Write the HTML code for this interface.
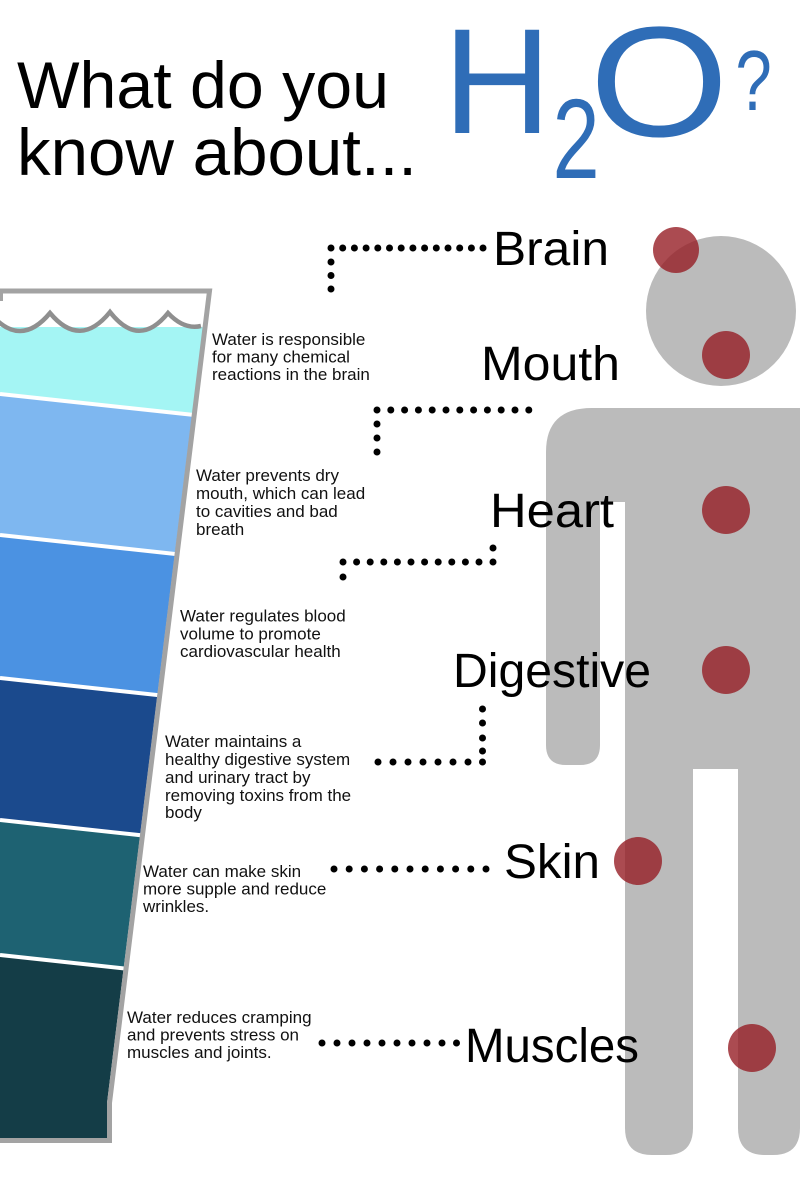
<!DOCTYPE html>
<html>
<head>
<meta charset="utf-8">
<style>
  html,body{margin:0;padding:0;background:#fff;}
  body{width:800px;height:1200px;overflow:hidden;}
  svg{display:block;}
  text{font-family:"Liberation Sans",sans-serif;}
</style>
</head>
<body>
<svg width="800" height="1200" viewBox="0 0 800 1200" xmlns="http://www.w3.org/2000/svg">
  <defs>
    <clipPath id="glass">
      <polygon points="0,294 207,294 107,1103 107,1138 0,1138"/>
    </clipPath>
  </defs>

  <!-- Title -->
  <text x="17" y="108" font-size="66" fill="#000" textLength="372" lengthAdjust="spacingAndGlyphs">What do you</text>
  <text x="17" y="175" font-size="66" fill="#000" textLength="400" lengthAdjust="spacingAndGlyphs">know about...</text>

  <!-- H2O? -->
  <text x="443" y="133" font-size="150" fill="#2f6db7">H</text>
  <text transform="translate(555,178) scale(0.75,1)" x="-3.4" y="0" font-size="113" fill="#2f6db7">2</text>
  <text transform="translate(598,136) scale(1.14,1)" x="-7.5" y="0" font-size="157" fill="#2f6db7">O</text>
  <text transform="translate(740,110) scale(0.77,1)" x="-6" y="0" font-size="85" fill="#2f6db7">?</text>

  <!-- Glass bands -->
  <g clip-path="url(#glass)">
    <polygon fill="#a4f5f4" points="0,327 240,327 240,420 0,394"/>
    <polygon fill="#7eb7f0" points="0,394 240,420 240,561 0,535"/>
    <polygon fill="#4b92e2" points="0,535 240,561 240,704 0,678"/>
    <polygon fill="#1b4a8d" points="0,678 240,704 240,846 0,820"/>
    <polygon fill="#1e6272" points="0,820 240,846 240,981 0,955"/>
    <polygon fill="#143d47" points="0,955 240,981 240,1140 0,1140"/>
    <g stroke="#fff" stroke-width="4">
      <line x1="0" y1="394" x2="240" y2="420"/>
      <line x1="0" y1="535" x2="240" y2="561"/>
      <line x1="0" y1="678" x2="240" y2="704"/>
      <line x1="0" y1="820" x2="240" y2="846"/>
      <line x1="0" y1="955" x2="240" y2="981"/>
    </g>
  </g>
  <!-- wave -->
  <path d="M -10,313 Q 20,349 50,313 Q 80,349 110,312 Q 139,349 168,313 Q 184,330 201,326" fill="none" stroke="#8f8f8f" stroke-width="4.5" stroke-linejoin="miter"/>
  <!-- glass outline -->
  <path d="M 0,291 L 209.5,291 L 109.5,1103 L 109.5,1140.5 L 0,1140.5" fill="none" stroke="#a3a3a3" stroke-width="5" stroke-linejoin="miter"/>
  <rect x="0" y="291" width="3" height="10" fill="#a3a3a3"/>

  <!-- descriptions -->
  <g font-size="17" fill="#111">
    <text x="212" y="345">Water is responsible</text>
    <text x="212" y="362.5">for many chemical</text>
    <text x="212" y="380">reactions in the brain</text>

    <text x="196" y="481">Water prevents dry</text>
    <text x="196" y="499">mouth, which can lead</text>
    <text x="196" y="517">to cavities and bad</text>
    <text x="196" y="535">breath</text>

    <text x="180" y="621.5">Water regulates blood</text>
    <text x="180" y="639.5">volume to promote</text>
    <text x="180" y="657">cardiovascular health</text>

    <text x="165" y="747">Water maintains a</text>
    <text x="165" y="765">healthy digestive system</text>
    <text x="165" y="783">and urinary tract by</text>
    <text x="165" y="801">removing toxins from the</text>
    <text x="165" y="818">body</text>

    <text x="143" y="877">Water can make skin</text>
    <text x="143" y="894.5">more supple and reduce</text>
    <text x="143" y="912">wrinkles.</text>

    <text x="127" y="1023">Water reduces cramping</text>
    <text x="127" y="1040.5">and prevents stress on</text>
    <text x="127" y="1058">muscles and joints.</text>
  </g>

  <!-- body figure -->
  <g fill="#bbbbbb">
    <circle cx="721" cy="311" r="75"/>
    <path d="M 546,452 Q 546,408 592,408 L 800,408 L 800,1128 Q 800,1155 773,1155 L 765,1155 Q 738,1155 738,1128 L 738,769 L 693,769 L 693,1128 Q 693,1155 666,1155 L 652,1155 Q 625,1155 625,1128 L 625,502 L 600,502 L 600,745 Q 600,765 580,765 L 566,765 Q 546,765 546,745 Z"/>
  </g>

  <!-- labels -->
  <g font-size="48" fill="#000">
    <text x="493" y="265" textLength="116" lengthAdjust="spacingAndGlyphs">Brain</text>
    <text x="481" y="380" textLength="139" lengthAdjust="spacingAndGlyphs">Mouth</text>
    <text x="490" y="527" textLength="124" lengthAdjust="spacingAndGlyphs">Heart</text>
    <text x="453" y="687" textLength="198" lengthAdjust="spacingAndGlyphs">Digestive</text>
    <text x="504" y="878" textLength="96" lengthAdjust="spacingAndGlyphs">Skin</text>
    <text x="465" y="1062" textLength="174" lengthAdjust="spacingAndGlyphs">Muscles</text>
  </g>

  <!-- red markers -->
  <g fill="rgb(150,30,38)" fill-opacity="0.8">
    <circle cx="676" cy="250" r="23"/>
    <circle cx="726" cy="355" r="24"/>
    <circle cx="726" cy="510" r="24"/>
    <circle cx="726" cy="670" r="24"/>
    <circle cx="638" cy="861" r="24"/>
    <circle cx="752" cy="1048" r="24"/>
  </g>

  <!-- dotted connectors -->
  <g fill="#000">
    <!-- Brain -->
    <circle cx="331" cy="248" r="3.5"/><circle cx="342.7" cy="248" r="3.5"/><circle cx="354.4" cy="248" r="3.5"/><circle cx="366.1" cy="248" r="3.5"/><circle cx="377.8" cy="248" r="3.5"/><circle cx="389.5" cy="248" r="3.5"/><circle cx="401.2" cy="248" r="3.5"/><circle cx="412.9" cy="248" r="3.5"/><circle cx="424.6" cy="248" r="3.5"/><circle cx="436.3" cy="248" r="3.5"/><circle cx="448" cy="248" r="3.5"/><circle cx="459.7" cy="248" r="3.5"/><circle cx="471.4" cy="248" r="3.5"/><circle cx="483" cy="248" r="3.5"/>
    <circle cx="331" cy="262" r="3.5"/><circle cx="331" cy="275.5" r="3.5"/><circle cx="331" cy="289" r="3.5"/>
    <!-- Mouth -->
    <circle cx="377" cy="410" r="3.5"/><circle cx="390.8" cy="410" r="3.5"/><circle cx="404.6" cy="410" r="3.5"/><circle cx="418.4" cy="410" r="3.5"/><circle cx="432.2" cy="410" r="3.5"/><circle cx="446" cy="410" r="3.5"/><circle cx="459.8" cy="410" r="3.5"/><circle cx="473.6" cy="410" r="3.5"/><circle cx="487.4" cy="410" r="3.5"/><circle cx="501.2" cy="410" r="3.5"/><circle cx="515" cy="410" r="3.5"/><circle cx="528.8" cy="410" r="3.5"/>
    <circle cx="377" cy="424" r="3.5"/><circle cx="377" cy="438" r="3.5"/><circle cx="377" cy="452" r="3.5"/>
    <!-- Heart -->
    <circle cx="343" cy="562" r="3.5"/><circle cx="356.6" cy="562" r="3.5"/><circle cx="370.2" cy="562" r="3.5"/><circle cx="383.8" cy="562" r="3.5"/><circle cx="397.4" cy="562" r="3.5"/><circle cx="411" cy="562" r="3.5"/><circle cx="424.6" cy="562" r="3.5"/><circle cx="438.2" cy="562" r="3.5"/><circle cx="451.8" cy="562" r="3.5"/><circle cx="465.4" cy="562" r="3.5"/><circle cx="479" cy="562" r="3.5"/><circle cx="493" cy="562" r="3.5"/>
    <circle cx="493" cy="548" r="3.5"/><circle cx="343" cy="577" r="3.5"/>
    <!-- Digestive -->
    <circle cx="378" cy="762" r="3.5"/><circle cx="393" cy="762" r="3.5"/><circle cx="408" cy="762" r="3.5"/><circle cx="423" cy="762" r="3.5"/><circle cx="438" cy="762" r="3.5"/><circle cx="453" cy="762" r="3.5"/><circle cx="468" cy="762" r="3.5"/><circle cx="482.5" cy="762" r="3.5"/>
    <circle cx="482.5" cy="709" r="3.5"/><circle cx="482.5" cy="723" r="3.5"/><circle cx="482.5" cy="738" r="3.5"/><circle cx="482.5" cy="751" r="3.5"/>
    <!-- Skin -->
    <circle cx="334" cy="869" r="3.5"/><circle cx="349.2" cy="869" r="3.5"/><circle cx="364.4" cy="869" r="3.5"/><circle cx="379.6" cy="869" r="3.5"/><circle cx="394.8" cy="869" r="3.5"/><circle cx="410" cy="869" r="3.5"/><circle cx="425.2" cy="869" r="3.5"/><circle cx="440.4" cy="869" r="3.5"/><circle cx="455.6" cy="869" r="3.5"/><circle cx="470.8" cy="869" r="3.5"/><circle cx="486" cy="869" r="3.5"/>
    <!-- Muscles -->
    <circle cx="322" cy="1043" r="3.5"/><circle cx="337" cy="1043" r="3.5"/><circle cx="352" cy="1043" r="3.5"/><circle cx="367" cy="1043" r="3.5"/><circle cx="382" cy="1043" r="3.5"/><circle cx="397" cy="1043" r="3.5"/><circle cx="412" cy="1043" r="3.5"/><circle cx="427" cy="1043" r="3.5"/><circle cx="442" cy="1043" r="3.5"/><circle cx="456.5" cy="1043" r="3.5"/>
  </g>
</svg>
</body>
</html>
